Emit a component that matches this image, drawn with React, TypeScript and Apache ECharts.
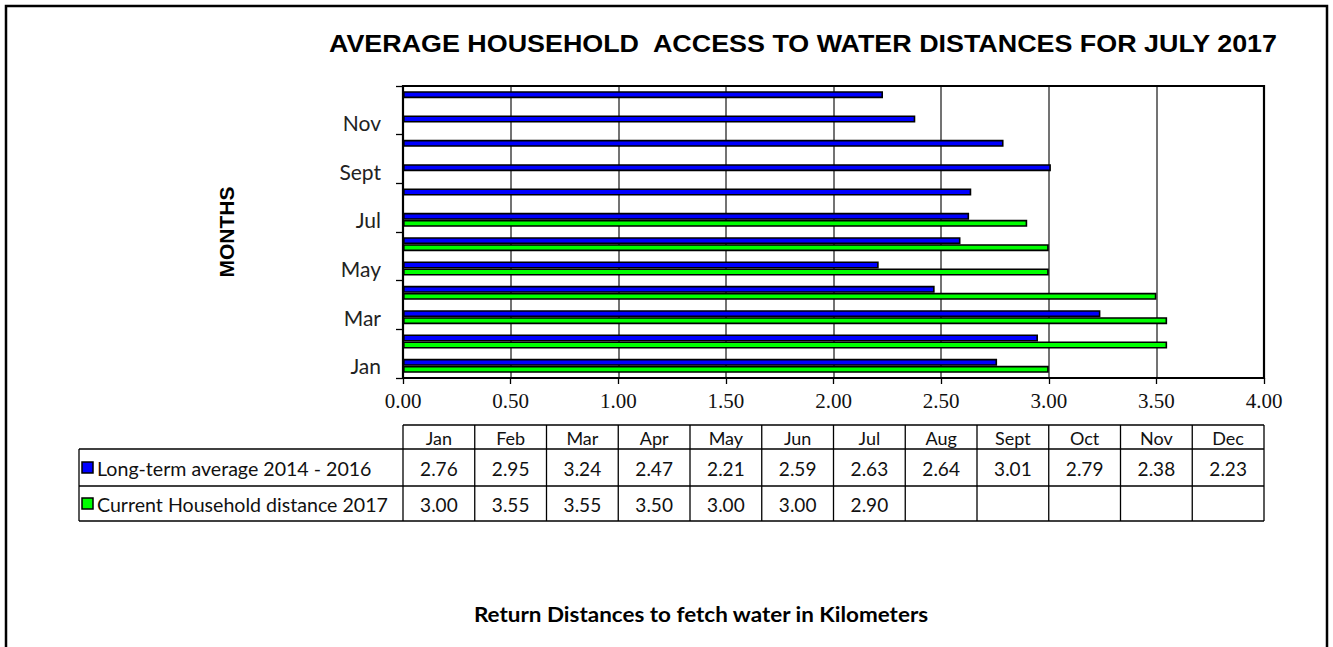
import React, { useEffect, useRef } from "react";
import * as echarts from "echarts";

const months = ["Jan", "Feb", "Mar", "Apr", "May", "Jun", "Jul", "Aug", "Sept", "Oct", "Nov", "Dec"];
const longTermAvg = [2.76, 2.95, 3.24, 2.47, 2.21, 2.59, 2.63, 2.64, 3.01, 2.79, 2.38, 2.23];
const current2017: (number | null)[] = [3.0, 3.55, 3.55, 3.5, 3.0, 3.0, 2.9, null, null, null, null, null];
const seriesNames = ["Long-term average 2014 - 2016", "Current Household distance 2017"];
const seriesColors = ["#0000ff", "#00ff00"];
const titleText = "AVERAGE HOUSEHOLD  ACCESS TO WATER DISTANCES FOR JULY 2017";
const yAxisTitle = "MONTHS";
const xAxisTitle = "Return Distances to fetch water in Kilometers";

const W = 1333;
const H = 647;
const PL = 403;
const PR = 1264;
const PT = 86;
const PB = 378;
const T_TOP = 425;
const T_R1 = 449;
const T_R2 = 486;
const T_BOT = 521;
const LEG_L = 79;

const SANS = "Lato, 'Open Sans', sans-serif";

export default function App() {
  const ref = useRef<HTMLDivElement>(null);
  useEffect(() => {
    document.body.style.margin = "0";
    if (!ref.current) return;
    const chart = echarts.init(ref.current, null, { renderer: "svg" });

    const lineStyle = { stroke: "#000", lineWidth: 1.3 };
    const colW = (PR - PL) / months.length;
    const g: any[] = [];
    // outer border
    g.push({ type: "rect", shape: { x: 6, y: 6, width: 1321, height: 700 }, style: { fill: "none", stroke: "#000", lineWidth: 2.5 }, silent: true });
    // title
    g.push({
      type: "text", x: 803, y: 44, scaleX: 1.12,
      style: { text: titleText, font: "bold 24px 'Liberation Sans', Arial, sans-serif", fill: "#000", textAlign: "center", textVerticalAlign: "middle" },
    });
    // plot border
    g.push({ type: "rect", shape: { x: PL, y: PT, width: PR - PL, height: PB - PT }, style: { fill: "none", stroke: "#000", lineWidth: 2.2 }, z: 10, silent: true });
    // bottom title
    g.push({
      type: "text", x: 701, y: 614, scaleX: 1.07,
      style: { text: xAxisTitle, font: `bold 21px ${SANS}`, fill: "#000", textAlign: "center", textVerticalAlign: "middle" },
    });
    // table lines
    g.push({ type: "line", shape: { x1: PL, y1: T_TOP, x2: PR, y2: T_TOP }, style: lineStyle });
    g.push({ type: "line", shape: { x1: LEG_L, y1: T_R1, x2: PR, y2: T_R1 }, style: lineStyle });
    g.push({ type: "line", shape: { x1: LEG_L, y1: T_R2, x2: PR, y2: T_R2 }, style: lineStyle });
    g.push({ type: "line", shape: { x1: LEG_L, y1: T_BOT, x2: PR, y2: T_BOT }, style: lineStyle });
    g.push({ type: "line", shape: { x1: LEG_L, y1: T_R1, x2: LEG_L, y2: T_BOT }, style: lineStyle });
    for (let i = 0; i <= months.length; i++) {
      const x = PL + i * colW;
      g.push({ type: "line", shape: { x1: x, y1: T_TOP, x2: x, y2: T_BOT }, style: lineStyle });
    }
    const rowsData = [longTermAvg, current2017];
    const rowMid = [(T_R1 + T_R2) / 2, (T_R2 + T_BOT) / 2];
    months.forEach((m, i) => {
      const cx = PL + (i + 0.5) * colW;
      g.push({ type: "text", x: cx, y: (T_TOP + T_R1) / 2 + 1, style: { text: m, font: `18px ${SANS}`, fill: "#111", textAlign: "center", textVerticalAlign: "middle" } });
      rowsData.forEach((arr, r) => {
        const v = arr[i];
        g.push({ type: "text", x: cx, y: rowMid[r] + 1, style: { text: v == null ? "" : v.toFixed(2), font: `19px ${SANS}`, fill: "#111", textAlign: "center", textVerticalAlign: "middle" } });
      });
    });
    seriesNames.forEach((name, r) => {
      g.push({ type: "rect", shape: { x: 82, y: rowMid[r] - 5.5, width: 11, height: 11 }, style: { fill: seriesColors[r], stroke: "#000", lineWidth: 1.5 } });
      g.push({ type: "text", x: 97, y: rowMid[r] + 1, style: { text: name, font: `19.6px ${SANS}`, fill: "#111", textAlign: "left", textVerticalAlign: "middle" } });
    });

    chart.setOption({
      animation: false,
      backgroundColor: "#fff",
      grid: { left: PL, right: W - PR, top: PT, bottom: H - PB, containLabel: false },
      xAxis: {
        type: "value",
        min: 0,
        max: 4,
        interval: 0.5,
        axisLine: { show: true, lineStyle: { color: "#000", width: 2 } },
        axisTick: { show: true, length: 6, lineStyle: { color: "#000", width: 1.3 } },
        axisLabel: { formatter: (v: number) => v.toFixed(2), fontFamily: "'Liberation Serif', 'Times New Roman', serif", fontSize: 21, color: "#111", margin: 12 },
        splitLine: { show: true, lineStyle: { color: "#444", width: 1.5 } },
      },
      yAxis: {
        type: "category",
        data: months,
        name: yAxisTitle,
        nameLocation: "middle",
        nameRotate: 90,
        nameGap: 166,
        nameTextStyle: { fontFamily: "'Liberation Sans', Arial, sans-serif", fontWeight: "bold", fontSize: 21, color: "#000" },
        axisLine: { show: true, lineStyle: { color: "#000", width: 2 } },
        axisTick: { show: true, length: 7, alignWithLabel: false, lineStyle: { color: "#000", width: 1.3 } },
        axisLabel: { interval: 1, fontFamily: SANS, fontSize: 21, color: "#222", margin: 22 },
        splitLine: { show: false },
      },
      series: [
        {
          name: seriesNames[0],
          type: "bar",
          data: longTermAvg,
          barWidth: 7,
          barGap: "0%",
          itemStyle: { color: seriesColors[0], borderColor: "#000", borderWidth: 1.6 },
        },
        {
          name: seriesNames[1],
          type: "bar",
          data: current2017,
          barWidth: 7,
          barGap: "0%",
          itemStyle: { color: seriesColors[1], borderColor: "#000", borderWidth: 1.6 },
        },
      ],
      graphic: g,
    });
    return () => chart.dispose();
  }, []);
  return <div ref={ref} style={{ width: W, height: H }} />;
}
